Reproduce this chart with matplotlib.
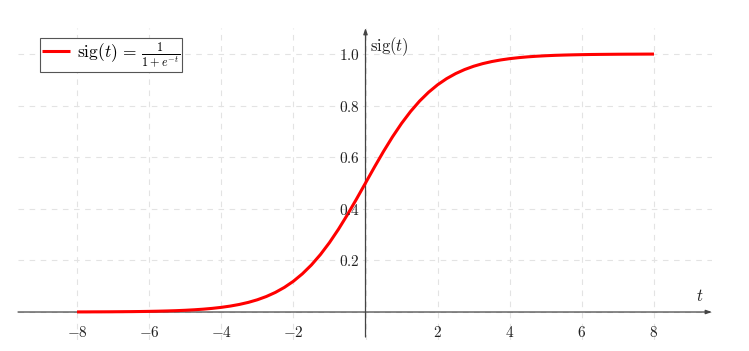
import matplotlib
matplotlib.use("Agg")
import matplotlib.pyplot as plt

plt.rcParams['mathtext.fontset'] = 'cm'
plt.rcParams['font.family'] = ['DejaVu Serif']

# Curve values
t_vals = [-8.0, -7.75, -7.5, -7.25, -7.0, -6.75, -6.5, -6.25, -6.0, -5.75, -5.5,
          -5.25, -5.0, -4.75, -4.5, -4.25, -4.0, -3.75, -3.5, -3.25, -3.0, -2.75,
          -2.5, -2.25, -2.0, -1.75, -1.5, -1.25, -1.0, -0.75, -0.5, -0.25, 0.0,
          0.25, 0.5, 0.75, 1.0, 1.25, 1.5, 1.75, 2.0, 2.25, 2.5, 2.75, 3.0, 3.25,
          3.5, 3.75, 4.0, 4.25, 4.5, 4.75, 5.0, 5.25, 5.5, 5.75, 6.0, 6.25, 6.5,
          6.75, 7.0, 7.25, 7.5, 7.75, 8.0]
sig_vals = [0.0003, 0.0004, 0.0006, 0.0007, 0.0009, 0.0012, 0.0015, 0.0019, 0.0025,
            0.0032, 0.0041, 0.0052, 0.0067, 0.0086, 0.0110, 0.0141, 0.0180, 0.0230,
            0.0293, 0.0373, 0.0474, 0.0601, 0.0759, 0.0954, 0.1192, 0.1481, 0.1824,
            0.2227, 0.2689, 0.3208, 0.3775, 0.4378, 0.5000, 0.5622, 0.6225, 0.6792,
            0.7311, 0.7773, 0.8176, 0.8519, 0.8808, 0.9046, 0.9241, 0.9399, 0.9526,
            0.9627, 0.9707, 0.9770, 0.9820, 0.9859, 0.9890, 0.9914, 0.9933, 0.9948,
            0.9959, 0.9968, 0.9975, 0.9981, 0.9985, 0.9988, 0.9991, 0.9993, 0.9994,
            0.9996, 0.9997]

x_ticks = [-8, -6, -4, -2, 2, 4, 6, 8]
x_tick_labels = ['$-8$', '$-6$', '$-4$', '$-2$', '$2$', '$4$', '$6$', '$8$']
y_ticks = [0.2, 0.4, 0.6, 0.8, 1.0]
y_tick_labels = ['$0.2$', '$0.4$', '$0.6$', '$0.8$', '$1.0$']
legend_label = r'$\mathrm{sig}(t)\, =\, \frac{1}{1+e^{-t}}$'
x_label = '$t$'
y_label = r'$\mathrm{sig}(t)$'

W, H = 749, 351
fig = plt.figure(figsize=(W / 100, H / 100), dpi=100)
px_l, px_r, px_t, px_b = 18, 712, 28, 340
ax = fig.add_axes([px_l / W, (H - px_b) / H, (px_r - px_l) / W, (px_b - px_t) / H])

ax.set_xlim(-9.637, 9.609)
ax.set_ylim(-0.1085, 1.1008)
for s in ax.spines.values():
    s.set_visible(False)

ax.set_xticks([-8, -6, -4, -2, 0, 2, 4, 6, 8])
ax.set_yticks([0, 0.2, 0.4, 0.6, 0.8, 1.0])
ax.tick_params(length=0, labelbottom=False, labelleft=False)
ax.grid(True, color='#e3e3e3', linestyle=(0, (5, 5)), linewidth=0.8)
ax.set_axisbelow(True)

# axes lines with arrows
arrow_style = '-|>,head_length=0.35,head_width=0.12'
ax.annotate('', xy=(9.609, 0), xytext=(-9.637, 0),
            arrowprops=dict(arrowstyle=arrow_style, color='#444444', lw=0.9,
                            shrinkA=0, shrinkB=0), zorder=2)
ax.annotate('', xy=(0, 1.1008), xytext=(0, -0.097),
            arrowprops=dict(arrowstyle=arrow_style, color='#444444', lw=0.9,
                            shrinkA=0, shrinkB=0), zorder=2)

line, = ax.plot(t_vals, sig_vals, color='#ff0000', lw=2.2, zorder=3,
                solid_capstyle='butt', solid_joinstyle='round', label=legend_label)

for t, lab in zip(x_ticks, x_tick_labels):
    ax.annotate(lab, xy=(t, 0), xytext=(0, -9), textcoords='offset points',
                ha='center', va='top', fontsize=11, color='#222222')
for v, lab in zip(y_ticks, y_tick_labels):
    ax.annotate(lab, xy=(0, v), xytext=(-4, 0), textcoords='offset points',
                ha='right', va='center_baseline', fontsize=11, color='#222222')

ax.annotate(x_label, xy=(9.609, 0), xytext=(-6, 5), textcoords='offset points',
            ha='right', va='bottom', fontsize=12, color='#222222')
ax.annotate(y_label, xy=(0, 1.1008), xytext=(3, -5), textcoords='offset points',
            ha='left', va='top', fontsize=12, color='#222222')

leg = ax.legend(handles=[line], loc='upper left',
                bbox_to_anchor=(22 / (px_r - px_l), 1 - 10 / (px_b - px_t)),
                frameon=True, fancybox=False, framealpha=1, edgecolor='#555555',
                fontsize=12.5, handlelength=1.6, borderpad=0.12, handletextpad=0.4,
                borderaxespad=0)
leg.get_frame().set_linewidth(0.8)

fig.savefig('out.png', dpi=100)
